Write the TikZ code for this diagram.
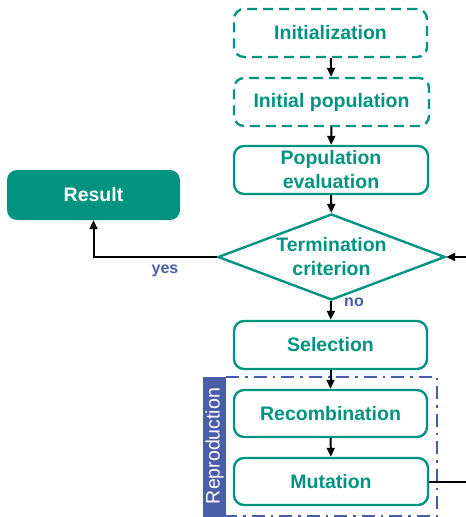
\documentclass[tikz,border=0pt]{standalone}
\usepackage{fontspec}
\setmainfont{Liberation Sans}
\usetikzlibrary{arrows.meta,shapes.geometric}
\definecolor{teal}{HTML}{009480}
\definecolor{navy}{HTML}{4A5DA8}
\tikzset{
  stepbox/.style={draw=teal, line width=2.4pt, rounded corners=10pt, text=teal,
    font=\bfseries\fontsize{19.5}{24}\selectfont, align=center, inner sep=0pt},
  dashbox/.style={stepbox, dash pattern=on 10pt off 6pt},
  flow/.style={line width=2pt, -{Triangle[length=9pt,width=8pt]}},
  answer/.style={text=navy, font=\bfseries\fontsize{16}{18}\selectfont},
}
\begin{document}
\begin{tikzpicture}[x=1pt,y=-1pt]
\useasboundingbox (0,0) rectangle (466,517);
\clip (0,0) rectangle (466,517);

% reproduction group
\fill[navy] (203,377) rectangle (226,517);
\node[rotate=90, text=white, font=\fontsize{19.5}{22}\selectfont] (reprolabel) at (214.5,446) {Reproduction};
\draw[navy, line width=2.5pt, dash pattern=on 13pt off 6pt on 2.5pt off 6pt] (226,377) -- (437,377) -- (437,516) -- (226,516);

% steps
\node[dashbox, minimum width=193pt, minimum height=48pt] (init) at (330.5,33) {Initialization};
\node[dashbox, minimum width=195pt, minimum height=48pt] (initpop) at (331.5,102) {Initial population};
\node[stepbox, minimum width=194pt, minimum height=48pt] (popeval) at (331,170) {Population\\evaluation};
\node[diamond, draw=teal, line width=2.4pt, minimum width=227pt, minimum height=86pt, inner sep=0pt, aspect=2.64] (term) at (331.5,257) {};
\node[text=teal, font=\bfseries\fontsize{19.5}{24}\selectfont, align=center] (termtext) at (331.5,257) {Termination\\criterion};
\node[stepbox, minimum width=193pt, minimum height=48pt] (select) at (330.5,345) {Selection};
\node[stepbox, minimum width=193pt, minimum height=47pt] (recomb) at (330.5,413.5) {Recombination};
\node[stepbox, minimum width=194pt, minimum height=47pt] (mutation) at (331,481.5) {Mutation};
\node[fill=teal, rounded corners=10pt, minimum width=173pt, minimum height=50pt, inner sep=0pt,
  text=white, font=\bfseries\fontsize{19.5}{24}\selectfont] (result) at (93.5,195) {Result};

% connectors
\draw[flow] (init) -- (initpop);
\draw[flow] (initpop) -- (popeval);
\draw[flow] (popeval) -- (term);
\draw[flow] (term) -- (select);
\draw[flow] (select) -- (recomb);
\draw[flow] (recomb) -- (mutation);
\draw[flow] (term.west) -| (result.south);
\coordinate (loopright) at (480,0);
\draw[flow] (mutation.east) -- (mutation.east -| loopright) -- (term.east -| loopright) -- (term.east);

% branch labels
\node[answer] (yeslabel) at (165,271) {yes};
\node[answer] (nolabel) at (354,302) {no};
\end{tikzpicture}
\end{document}
